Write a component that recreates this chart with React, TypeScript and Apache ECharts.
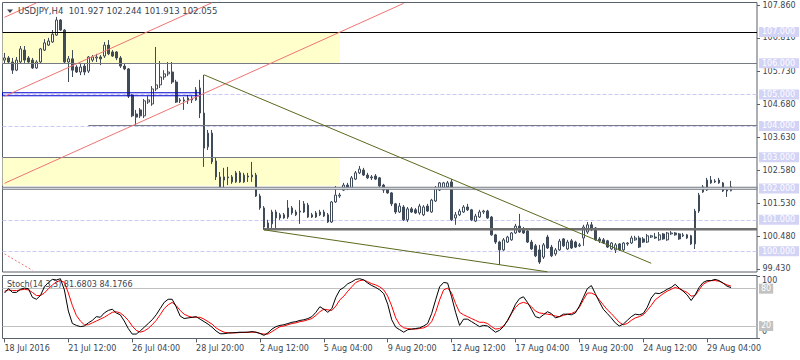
import React, { useEffect, useRef } from 'react';
import * as echarts from 'echarts';

const tickLabels = ['18 Jul 2016', '21 Jul 12:00', '26 Jul 04:00', '28 Jul 20:00', '2 Aug 12:00', '5 Aug 04:00', '9 Aug 20:00', '12 Aug 12:00', '17 Aug 04:00', '19 Aug 20:00', '24 Aug 12:00', '29 Aug 04:00'];
const tickEvery = 16;
const slotCount = 189;
const categories = Array.from({ length: slotCount }, (_, i) => String(i));

const opens = [106.10,106.17,106.04,105.78,106.04,106.42,106.17,106.10,105.85,106.04,106.42,106.58,106.68,106.90,107.38,107.06,106.04,106.14,105.88,105.72,105.91,105.75,106.10,106.17,106.20,106.23,106.58,106.36,106.36,106.17,105.91,105.82,104.99,104.38,104.51,104.32,104.76,104.70,105.18,105.31,105.56,105.66,105.72,105.40,104.83,104.83,104.80,104.89,104.83,105.21,104.41,103.33,103.77,102.88,102.37,102.27,102.37,102.37,102.21,102.50,102.21,102.40,102.37,102.43,101.76,101.38,100.74,100.87,101.25,101.06,101.16,101.09,101.38,101.25,101.25,101.25,101.47,101.16,101.09,101.16,101.25,101.16,100.93,101.57,101.76,101.95,102.11,102.02,102.30,102.50,102.59,102.43,102.37,102.40,102.34,102.11,101.99,101.86,101.51,101.25,101.41,101.00,101.35,101.32,101.22,101.16,101.44,101.25,101.60,101.95,102.02,102.05,102.21,101.06,101.16,101.25,101.41,101.32,100.96,101.09,101.25,101.28,101.09,100.52,100.29,100.04,100.29,100.36,100.58,100.80,100.71,100.64,100.29,100.17,100.04,99.81,100.45,100.13,99.91,100.04,100.39,100.07,100.33,100.29,100.17,100.42,100.61,100.84,100.74,100.39,100.36,100.33,100.07,100.04,100.23,100.04,100.23,100.26,100.36,100.42,100.39,100.29,100.45,100.45,100.36,100.55,100.36,100.55,100.58,100.55,100.49,100.52,100.49,100.23,101.28,101.89,101.95,102.27,102.21,102.27,102.18,101.95,101.927];
const closes = [106.17,106.04,105.78,106.10,106.46,106.10,106.04,105.85,106.04,106.46,106.65,106.71,106.93,107.38,107.06,106.04,106.14,105.78,105.72,105.88,105.72,106.20,106.20,106.20,106.14,106.58,106.30,106.23,106.17,105.91,105.82,104.95,104.32,104.28,104.32,104.80,104.83,105.18,105.31,105.56,105.66,105.72,105.40,104.76,104.80,104.80,104.89,104.83,105.15,104.41,103.29,103.77,102.85,102.37,102.02,102.37,102.34,102.21,102.50,102.21,102.43,102.37,102.43,101.76,101.38,100.77,100.90,101.25,101.06,101.16,101.06,101.38,101.22,101.16,101.28,101.51,101.09,101.09,101.22,101.25,101.12,100.93,101.57,101.79,101.79,102.11,102.02,102.34,102.50,102.62,102.43,102.34,102.34,102.30,102.08,101.95,101.86,101.51,101.25,101.44,101.00,101.35,101.25,101.22,101.44,101.41,101.28,101.63,102.02,102.18,102.18,102.18,101.00,101.16,101.28,101.41,101.32,101.00,101.12,101.25,101.28,101.06,100.52,100.29,100.04,100.36,100.45,100.58,100.80,100.61,100.58,100.29,100.07,99.85,99.65,100.20,100.10,99.85,100.04,100.32,100.17,100.29,100.10,100.13,100.20,100.77,100.84,100.68,100.36,100.33,100.26,100.13,100.26,100.20,100.04,100.26,100.26,100.42,100.42,100.13,100.29,100.49,100.49,100.42,100.52,100.39,100.58,100.58,100.52,100.39,100.52,100.42,100.23,101.28,101.79,102.05,102.27,102.18,102.24,102.18,101.92,101.92,102.055];
const lows = [105.98,105.98,105.66,105.75,106.01,106.01,106.01,105.82,105.82,106.01,106.39,106.55,106.65,106.87,107.03,105.98,105.40,105.56,105.69,105.62,105.62,105.69,106.04,106.04,105.94,106.17,106.26,106.20,106.10,105.85,105.78,104.89,104.28,104.03,104.25,104.25,104.70,104.64,105.11,105.21,105.47,105.59,105.34,104.73,104.73,104.51,104.70,104.73,104.80,104.25,102.69,103.23,102.78,102.27,101.99,101.99,102.11,102.15,102.18,102.18,102.18,102.21,102.21,101.73,101.32,100.68,100.68,100.74,100.74,101.00,101.03,101.03,101.16,101.12,100.87,101.22,101.06,101.06,101.06,101.12,101.09,100.90,100.90,101.54,101.70,101.92,101.95,101.99,102.27,102.46,102.40,102.30,102.27,102.27,102.05,101.86,101.83,101.44,101.19,101.22,100.96,100.93,101.22,101.19,101.16,101.12,101.25,101.22,101.57,101.92,101.99,102.02,100.96,100.84,101.12,101.22,101.28,100.96,100.93,101.06,101.19,101.03,100.49,100.23,99.56,100.01,100.26,100.33,100.55,100.58,100.55,100.26,100.04,99.81,99.59,99.75,100.07,99.81,99.85,100.01,100.13,100.04,100.07,100.10,100.13,100.17,100.55,100.64,100.33,100.26,100.23,100.10,100.04,99.94,100.01,100.01,100.17,100.23,100.33,100.10,100.26,100.26,100.42,100.39,100.33,100.36,100.33,100.52,100.49,100.36,100.45,100.39,100.20,100.07,101.22,101.86,101.92,102.15,102.18,102.15,101.89,101.73,101.913];
const highs = [106.33,106.23,106.17,106.20,106.55,106.55,106.23,106.17,106.10,106.49,106.77,106.81,107.06,107.48,107.41,107.09,106.23,106.42,105.94,105.98,105.98,106.23,106.26,106.30,106.26,106.68,106.74,106.42,106.39,106.23,105.98,105.85,105.02,104.51,104.57,104.86,104.95,105.27,106.52,106.07,105.78,106.04,106.04,105.47,104.89,104.92,104.99,104.95,105.24,105.47,105.63,103.87,103.87,102.98,102.53,102.66,102.69,102.43,102.56,102.56,102.50,102.50,102.85,102.50,101.83,101.44,101.00,101.32,101.32,101.22,101.22,101.63,101.44,101.32,101.63,101.60,101.54,101.22,101.28,101.32,101.32,101.22,101.60,102.08,101.86,102.18,102.18,102.40,102.56,102.72,102.66,102.50,102.43,102.46,102.37,102.15,102.02,101.89,101.54,101.54,101.47,101.41,101.41,101.38,101.51,101.47,101.51,101.67,102.08,102.21,102.21,102.24,102.30,101.25,101.35,101.47,101.51,101.35,101.19,101.32,101.32,101.32,101.12,100.55,100.33,100.42,100.49,100.61,100.87,101.19,100.77,100.71,100.36,100.23,100.20,100.26,100.52,100.20,100.10,100.39,100.42,100.36,100.39,100.33,100.26,100.84,100.93,100.93,100.77,100.45,100.42,100.36,100.29,100.26,100.26,100.29,100.29,100.49,100.49,100.49,100.45,100.55,100.52,100.58,100.61,100.58,100.61,100.64,100.61,100.58,100.58,100.55,100.52,101.35,101.86,102.11,102.34,102.40,102.30,102.34,102.21,101.99,102.244];

const stochK = [73,80,74,74,79,81,80,66,63,69,83,90,95,94,96,78,44,24,21,19,20,25,29,35,34,41,45,47,41,38,28,16,7,7,12,18,24,30,38,48,58,63,63,51,36,32,33,34,35,31,27,23,18,12,7.6,7.6,8.7,9,9.5,10,10,10,11,10,8,5,9,15,19,21,22,24,26,27,29,30,32,35,42,51,47,42,48,66,78,82,88,91,95,96,94,89,85,82,78,72,55,30,18,14,10,14,15,16,17,20,24,40,62,83,90,89,67,42,21,31,31,27,23,19,21,20,15,10,13,19,29,41,55,64,67,58,47,35,33,38,43,40,33,35,39,39,38,41,52,66,80,85,72,59,47,40,33,25,20,23,29,35,39,38,40,50,65,73,72,75,79,82,87,81,76,70,61,70,82,90,93,93,95,93,89,84,81.6803];
const stochD = [76,78,77,77,78,79,78,74,69,69,73,80,86,91,93,90,73,53,37,28,22,22,25,28,31,34,38,42,43,41,36,29,20,13,10,12,16,22,29,38,48,54,58,53,45,39,36,34,34,34,31,27,23,17,13,10,9,9,9,9.5,9.5,10,10,10,8,7,7,11,15,19,20,22,24,25,27,28,30,32,37,43,47,46,45,52,62,68,76,83,90,93,94,91,88,86,83,78,68,52,33,22,17,16,15,15,16,17,20,27,42,62,78,81,73,56,42,38,35,32,29,26,26,24,19,15,16,20,28,40,50,56,58,56,51,44,41,40,39,38,36,35,37,39,40,43,50,62,73,73,70,62,54,46,40,33,26,22,24,29,33,35,38,45,53,62,67,72,76,79,82,80,77,74,68,69,78,87,91,93,93,92,89,86,84.1766];

const priceTicks = [107.86, 106.81, 105.73, 104.68, 103.63, 102.58, 101.53, 100.48, 99.43];
const levelTicks = [107, 106, 105, 104, 103, 102, 101, 100];
const stochLevels = [80, 20];

// drawn objects (bar index, price)
const redLines = [
  [[0, 107.467], [8, 107.927]],
  [[0, 104.945], [52, 107.935]],
  [[0, 102.166], [100, 107.913]],
];
const redDotted = [[0, 99.912], [7, 99.388]];
const oliveLines = [
  [[50, 105.63], [162, 99.612]],
  [[65, 100.68], [136, 99.34]],
];
const yellowBoxes = [
  [107.0, 106.0, 84],
  [103.0, 102.085, 84],
];
const blueBand = [105.058, 104.962, 49];

const FRAME = '#59616b';
const TEXT = '#3a4552';
const GRAY = '#767b83';
const FONT = 'DejaVu Sans';

const tickInterval = (i: number) => i % tickEvery === 0 && i / tickEvery < tickLabels.length;

function buildOption() {
  const candles = opens.map((o, i) => [o, closes[i], lows[i], highs[i]]);
  const last = opens.length - 1;
  const title = `USDJPY,H4  ${opens[last].toFixed(3)} ${highs[last].toFixed(3)} ${lows[last].toFixed(3)} ${closes[last].toFixed(3)}`;
  const stochTitle = `Stoch(14,3,3) ${stochK[last].toFixed(4)} ${stochD[last].toFixed(4)}`;
  const lineSeg = (seg: number[][], style: any) => [
    { coord: seg[0], lineStyle: style },
    { coord: seg[1] },
  ];
  return {
    animation: false,
    backgroundColor: '#ffffff',
    textStyle: { fontFamily: FONT },
    grid: [
      { left: 2.5, top: 2.5, width: 754.5, height: 269.5, show: true, borderColor: FRAME, borderWidth: 1, outerBoundsMode: 'none' },
      { left: 2.5, top: 275.5, width: 754.5, height: 63, show: true, borderColor: FRAME, borderWidth: 1, outerBoundsMode: 'none' },
    ],
    xAxis: [
      { type: 'category', gridIndex: 0, data: categories, boundaryGap: true, show: false },
      {
        type: 'category', gridIndex: 1, data: categories, boundaryGap: true,
        axisLine: { show: false },
        axisTick: { show: true, alignWithLabel: true, interval: tickInterval, length: 4, lineStyle: { color: FRAME } },
        axisLabel: {
          interval: tickInterval,
          formatter: (_v: string, i: number) => tickLabels[i / tickEvery] ?? '',
          align: 'left', margin: 5.5, color: TEXT, fontSize: 8, fontFamily: FONT,
        },
        splitLine: { show: false },
      },
    ],
    yAxis: [
      {
        type: 'value', gridIndex: 0, position: 'right', min: 99.334, max: 107.94,
        axisLine: { show: false }, splitLine: { show: false },
        axisTick: { show: true, customValues: priceTicks, length: 3, lineStyle: { color: FRAME } },
        axisLabel: { customValues: priceTicks, formatter: (v: number) => v.toFixed(3), color: TEXT, fontSize: 8, fontFamily: FONT, margin: 5.5 },
      },
      {
        type: 'value', gridIndex: 0, position: 'right', min: 99.334, max: 107.94, z: 5,
        axisLine: { show: false }, splitLine: { show: false }, axisTick: { show: false },
        axisLabel: {
          customValues: levelTicks, formatter: (v: number) => v.toFixed(3), color: '#ffffff',
          backgroundColor: '#d3d3f6', padding: [1, 4, 0, 3], lineHeight: 9, margin: 2, fontSize: 8, fontFamily: FONT,
        },
      },
      {
        type: 'value', gridIndex: 1, position: 'right', min: -0.1, max: 101.2, z: 5,
        axisLine: { show: false }, splitLine: { show: false },
        axisTick: { show: true, customValues: [0, 100], length: 3, lineStyle: { color: FRAME } },
        axisLabel: {
          customValues: stochLevels, formatter: (v: number) => String(v), color: '#ffffff',
          backgroundColor: '#c2c2c2', padding: [1, 2, 0, 2], lineHeight: 9, margin: 2, fontSize: 8, fontFamily: FONT,
        },
      },
      {
        type: 'value', gridIndex: 1, position: 'right', min: -0.1, max: 101.2,
        axisLine: { show: false }, splitLine: { show: false }, axisTick: { show: false },
        axisLabel: { customValues: [100], verticalAlign: 'top', formatter: (v: number) => String(v), color: TEXT, fontSize: 8, fontFamily: FONT, margin: 5 },
      },
      {
        type: 'value', gridIndex: 1, position: 'right', min: -0.1, max: 101.2,
        axisLine: { show: false }, splitLine: { show: false }, axisTick: { show: false },
        axisLabel: { customValues: [0], verticalAlign: 'bottom', padding: [0, 0, 3, 0], formatter: (v: number) => String(v), color: TEXT, fontSize: 8, fontFamily: FONT, margin: 5 },
      },
    ],
    series: [
      {
        type: 'candlestick', name: 'USDJPY', xAxisIndex: 0, yAxisIndex: 0, data: candles, barWidth: 2.2,
        itemStyle: { color: '#ffffff', color0: '#404b5a', borderColor: '#404b5a', borderColor0: '#404b5a', borderWidth: 1 },
        silent: true,
        markArea: {
          silent: true, z: 1,
          itemStyle: { color: '#ffffcc' },
          label: { show: false },
          data: yellowBoxes.map(([top, bottom, end]) => [{ yAxis: top }, { xAxis: end, yAxis: bottom }]),
        },
        markLine: {
          silent: true, z: 1.5, symbol: ['none', 'none'], label: { show: false },
          lineStyle: { color: '#c9c9f2', type: [4, 2], width: 1 },
          data: levelTicks.map((v) => ({ yAxis: v })),
        },
      },
      {
        type: 'line', name: 'areas', xAxisIndex: 0, yAxisIndex: 0, data: [], silent: true,
        markArea: {
          silent: true, z: 3, label: { show: false },
          data: [
            [{ yAxis: 102.04, itemStyle: { color: '#ededf1', borderColor: GRAY, borderWidth: 1 } }, { yAxis: 101.975 }],
            [{ xAxis: 21, yAxis: 104.028, itemStyle: { color: GRAY } }, { yAxis: 103.997 }],
            [{ xAxis: 65, yAxis: 100.74, itemStyle: { color: '#6f6f6f' } }, { yAxis: 100.66 }],
            [{ yAxis: blueBand[0], itemStyle: { color: 'rgba(255,255,255,0)', borderColor: '#0000d0', borderWidth: 1 } }, { xAxis: blueBand[2], yAxis: blueBand[1] }],
          ],
        },
      },
      {
        type: 'line', name: 'lines', xAxisIndex: 0, yAxisIndex: 0, data: [], silent: true,
        markLine: {
          silent: true, z: 5, symbol: ['none', 'none'], label: { show: false },
          lineStyle: { type: 'solid', width: 1 },
          data: [
            { yAxis: 107.0, lineStyle: { color: '#000000', type: 'solid' } },
            { yAxis: 106.0, lineStyle: { color: GRAY, type: 'solid' } },
            { yAxis: 103.0, lineStyle: { color: GRAY, type: 'solid' } },
            ...redLines.map((s) => lineSeg(s, { color: '#f07474', type: 'solid', width: 1 })),
            lineSeg(redDotted, { color: '#f07474', type: [2, 2], width: 1 }),
            ...oliveLines.map((s) => lineSeg(s, { color: '#5a6a1e', type: 'solid', width: 1 })),
          ],
        },
      },
      {
        type: 'line', name: 'Signal', xAxisIndex: 1, yAxisIndex: 2, data: stochD, showSymbol: false, silent: true,
        lineStyle: { color: '#ff0000', width: 1 }, itemStyle: { color: '#ff0000' },
        markLine: {
          silent: true, z: 1, symbol: ['none', 'none'], label: { show: false },
          lineStyle: { color: '#c0c0c0', type: 'solid', width: 1 },
          data: stochLevels.map((v) => ({ yAxis: v })),
        },
      },
      {
        type: 'line', name: 'Main', xAxisIndex: 1, yAxisIndex: 2, data: stochK, showSymbol: false, silent: true,
        lineStyle: { color: '#000000', width: 1 }, itemStyle: { color: '#000000' },
      },
    ],
    graphic: [
      { type: 'polygon', z: 10, shape: { points: [[7, 9.5], [13, 9.5], [10, 13]] }, style: { fill: TEXT } },
      { type: 'text', z: 10, x: 18, y: 11, style: { text: title, fill: TEXT, fontSize: 8.5, fontFamily: FONT, verticalAlign: 'middle' } },
      { type: 'text', z: 10, x: 7, y: 284.5, style: { text: stochTitle, fill: TEXT, fontSize: 8, fontFamily: FONT, verticalAlign: 'middle' } },
    ],
  };
}

export default function App() {
  const ref = useRef<HTMLDivElement>(null);
  useEffect(() => {
    if (!ref.current) return;
    const chart = echarts.init(ref.current, undefined, { renderer: 'svg' });
    chart.setOption(buildOption() as any);
    return () => chart.dispose();
  }, []);
  return (
    <div
      ref={ref}
      style={{ position: 'fixed', left: 0, top: 0, width: 800, height: 360, background: '#ffffff' }}
    />
  );
}
